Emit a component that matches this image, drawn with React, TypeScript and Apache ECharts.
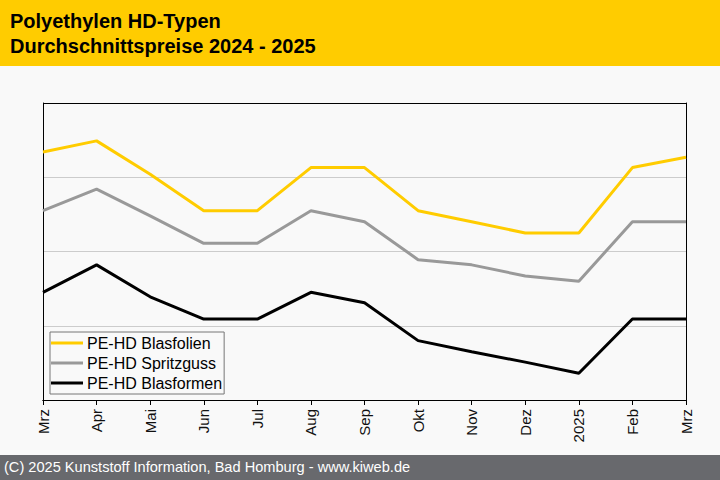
import React, { useEffect, useRef } from "react";
import * as echarts from "echarts";

const categories = ["Mrz", "Apr", "Mai", "Jun", "Jul", "Aug", "Sep", "Okt", "Nov", "Dez", "2025", "Feb", "Mrz"];
const blasfolien = [334, 349, 304, 255, 255, 313, 313, 255, 240, 225, 225, 313, 327];
const spritzguss = [255, 284, 248, 211, 211, 255, 240, 189, 182, 167, 160, 240, 240];
const blasformen = [145, 182, 139, 109, 109, 145, 131, 80, 65, 51, 36, 109, 109];
const seriesNames = ["PE-HD Blasfolien", "PE-HD Spritzguss", "PE-HD Blasformen"];
const titleLines = ["Polyethylen HD-Typen", "Durchschnittspreise 2024 - 2025"];
const footerText = "(C) 2025 Kunststoff Information, Bad Homburg - www.kiweb.de";

export default function App() {
  const ref = useRef<HTMLDivElement>(null);
  useEffect(() => {
    if (!ref.current) return;
    const chart = echarts.init(ref.current, undefined, { renderer: "svg" });
    const font = "'Liberation Sans', Arial, sans-serif";
    const border = { show: true, lineStyle: { color: "#000", width: 1 } };
    chart.setOption({
      animation: false,
      backgroundColor: "#f9f9f9",
      textStyle: { fontFamily: font },
      graphic: [
        { type: "rect", left: 0, top: 0, shape: { width: 720, height: 66 }, style: { fill: "#ffcc00" }, silent: true },
        { type: "text", left: 10, top: 8, style: { text: titleLines.join("\n"), font: "bold 20px " + font, fill: "#000", lineHeight: 25 } },
        { type: "rect", left: 0, top: 455, shape: { width: 720, height: 25 }, style: { fill: "#68696d" }, silent: true },
        { type: "text", left: 4, top: 459, style: { text: footerText, font: "14.6px " + font, fill: "#fff" } },
      ],
      grid: {
        left: 43, right: 34, top: 103, bottom: 80,
        show: true, borderWidth: 0, backgroundColor: "#f9f9f9",
      },
      legend: {
        orient: "vertical", left: 50, top: 332,
        backgroundColor: "#f9f9f9", borderColor: "#777", borderWidth: 1,
        padding: [2, 2, 2, 1],
        itemWidth: 32, itemHeight: 3, itemGap: 2, icon: "rect",
        textStyle: { fontSize: 16, color: "#000", fontFamily: font, padding: [0, 0, 0, -1], lineHeight: 18 },
        data: seriesNames,
      },
      xAxis: [
        {
          type: "category", data: categories, boundaryGap: false,
          axisLine: border,
          axisTick: { show: true, length: 5, lineStyle: { color: "#000" } },
          axisLabel: { rotate: 90, fontSize: 15, color: "#111", margin: 9, fontFamily: font, interval: 0 },
        },
        {
          type: "category", data: categories, boundaryGap: false, position: "top",
          axisLine: border, axisTick: { show: false }, axisLabel: { show: false }, splitLine: { show: false },
        },
      ],
      yAxis: [
        {
          type: "value", min: 0, max: 400, interval: 100,
          axisLabel: { show: false }, axisLine: border, axisTick: { show: false },
          splitLine: { lineStyle: { color: ["#000", "#cccccc", "#cccccc", "#cccccc", "#000"], width: 1 } },
        },
        {
          type: "value", min: 0, max: 400, interval: 100, position: "right",
          axisLabel: { show: false }, axisLine: border, axisTick: { show: false }, splitLine: { show: false },
        },
      ],
      series: [
        { name: seriesNames[0], type: "line", data: blasfolien, showSymbol: false, lineStyle: { color: "#ffcc00", width: 3 }, itemStyle: { color: "#ffcc00" } },
        { name: seriesNames[1], type: "line", data: spritzguss, showSymbol: false, lineStyle: { color: "#999999", width: 3 }, itemStyle: { color: "#999999" } },
        { name: seriesNames[2], type: "line", data: blasformen, showSymbol: false, lineStyle: { color: "#000000", width: 3 }, itemStyle: { color: "#000000" } },
      ],
    });
    return () => chart.dispose();
  }, []);
  return <div ref={ref} style={{ position: "fixed", left: 0, top: 0, width: 720, height: 480 }} />;
}
